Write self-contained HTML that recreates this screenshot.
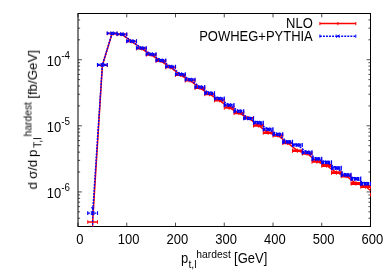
<!DOCTYPE html><html><head><meta charset="utf-8"><style>html,body{margin:0;padding:0;background:#fff}svg{display:block}text{will-change:opacity;opacity:0.99}text{font-family:"Liberation Sans",sans-serif;fill:#000}</style></head><body>
<svg width="390" height="273" viewBox="0 0 390 273">
<rect width="390" height="273" fill="#fff"/>
<path d="M78.00 226.5v-3.9M78.00 13.5v3.9M126.75 226.5v-3.9M126.75 13.5v3.9M175.50 226.5v-3.9M175.50 13.5v3.9M224.25 226.5v-3.9M224.25 13.5v3.9M273.00 226.5v-3.9M273.00 13.5v3.9M321.75 226.5v-3.9M321.75 13.5v3.9M370.50 226.5v-3.9M370.50 13.5v3.9M78.0 226.50h2.1M370.5 226.50h-2.1M78.0 218.24h2.1M370.5 218.24h-2.1M78.0 211.83h2.1M370.5 211.83h-2.1M78.0 206.60h2.1M370.5 206.60h-2.1M78.0 202.17h2.1M370.5 202.17h-2.1M78.0 198.34h2.1M370.5 198.34h-2.1M78.0 194.96h2.1M370.5 194.96h-2.1M78.0 191.93h3.9M370.5 191.93h-3.9M78.0 172.03h2.1M370.5 172.03h-2.1M78.0 160.39h2.1M370.5 160.39h-2.1M78.0 152.13h2.1M370.5 152.13h-2.1M78.0 145.72h2.1M370.5 145.72h-2.1M78.0 140.49h2.1M370.5 140.49h-2.1M78.0 136.06h2.1M370.5 136.06h-2.1M78.0 132.23h2.1M370.5 132.23h-2.1M78.0 128.85h2.1M370.5 128.85h-2.1M78.0 125.82h3.9M370.5 125.82h-3.9M78.0 105.92h2.1M370.5 105.92h-2.1M78.0 94.28h2.1M370.5 94.28h-2.1M78.0 86.02h2.1M370.5 86.02h-2.1M78.0 79.61h2.1M370.5 79.61h-2.1M78.0 74.38h2.1M370.5 74.38h-2.1M78.0 69.95h2.1M370.5 69.95h-2.1M78.0 66.12h2.1M370.5 66.12h-2.1M78.0 62.73h2.1M370.5 62.73h-2.1M78.0 59.71h3.9M370.5 59.71h-3.9M78.0 39.81h2.1M370.5 39.81h-2.1M78.0 28.17h2.1M370.5 28.17h-2.1M78.0 19.91h2.1M370.5 19.91h-2.1M78.0 13.50h2.1M370.5 13.50h-2.1" stroke="#000" stroke-width="0.7" fill="none"/>
<rect x="78.0" y="13.5" width="292.5" height="213.0" fill="none" stroke="#000" stroke-width="1"/>
<clipPath id="c"><rect x="77.5" y="13.5" width="293.65" height="213.0"/></clipPath>
<g clip-path="url(#c)">
<path d="M92.62 222.00 L102.38 65.20 L112.12 33.50 L121.88 34.40 L131.62 41.50 L141.38 48.50 L151.12 54.80 L160.88 61.00 L170.62 67.40 L180.38 75.00 L190.12 80.60 L199.88 88.00 L209.62 94.20 L219.38 100.30 L229.12 107.70 L238.88 113.10 L248.62 118.10 L258.38 125.50 L268.12 132.70 L277.88 135.50 L287.62 143.00 L297.38 150.70 L307.12 153.50 L316.88 161.50 L326.62 165.50 L336.38 172.60 L346.12 176.00 L355.88 183.40 L365.62 186.50 L370.5 190.5" stroke="#ff0000" stroke-width="1.5" fill="none" stroke-linejoin="round" /><path d="M87.75 222.00h9.75" stroke="#ff0000" stroke-width="1.40" fill="none" /><path d="M97.50 65.20h9.75" stroke="#ff0000" stroke-width="1.60" fill="none" /><path d="M107.25 33.50h9.75" stroke="#ff0000" stroke-width="1.60" fill="none" /><path d="M117.00 34.40h9.75" stroke="#ff0000" stroke-width="1.65" fill="none" /><path d="M126.75 41.50h9.75" stroke="#ff0000" stroke-width="1.71" fill="none" /><path d="M136.50 48.50h9.75" stroke="#ff0000" stroke-width="1.76" fill="none" /><path d="M146.25 54.80h9.75" stroke="#ff0000" stroke-width="1.82" fill="none" /><path d="M156.00 61.00h9.75" stroke="#ff0000" stroke-width="1.87" fill="none" /><path d="M165.75 67.40h9.75" stroke="#ff0000" stroke-width="1.92" fill="none" /><path d="M175.50 75.00h9.75" stroke="#ff0000" stroke-width="1.98" fill="none" /><path d="M185.25 80.60h9.75" stroke="#ff0000" stroke-width="2.03" fill="none" /><path d="M195.00 88.00h9.75" stroke="#ff0000" stroke-width="2.08" fill="none" /><path d="M204.75 94.20h9.75" stroke="#ff0000" stroke-width="2.14" fill="none" /><path d="M214.50 100.30h9.75" stroke="#ff0000" stroke-width="2.19" fill="none" /><path d="M224.25 107.70h9.75" stroke="#ff0000" stroke-width="2.25" fill="none" /><path d="M234.00 113.10h9.75" stroke="#ff0000" stroke-width="2.30" fill="none" /><path d="M243.75 118.10h9.75" stroke="#ff0000" stroke-width="2.35" fill="none" /><path d="M253.50 125.50h9.75" stroke="#ff0000" stroke-width="2.41" fill="none" /><path d="M263.25 132.70h9.75" stroke="#ff0000" stroke-width="2.46" fill="none" /><path d="M273.00 135.50h9.75" stroke="#ff0000" stroke-width="2.52" fill="none" /><path d="M282.75 143.00h9.75" stroke="#ff0000" stroke-width="2.57" fill="none" /><path d="M292.50 150.70h9.75" stroke="#ff0000" stroke-width="2.62" fill="none" /><path d="M302.25 153.50h9.75" stroke="#ff0000" stroke-width="2.68" fill="none" /><path d="M312.00 161.50h9.75" stroke="#ff0000" stroke-width="2.73" fill="none" /><path d="M321.75 165.50h9.75" stroke="#ff0000" stroke-width="2.78" fill="none" /><path d="M331.50 172.60h9.75" stroke="#ff0000" stroke-width="2.84" fill="none" /><path d="M341.25 176.00h9.75" stroke="#ff0000" stroke-width="2.89" fill="none" /><path d="M351.00 183.40h9.75" stroke="#ff0000" stroke-width="2.95" fill="none" /><path d="M360.75 186.50h9.75" stroke="#ff0000" stroke-width="3.00" fill="none" /><path d="M87.75 220.20v3.60M97.50 220.20v3.60M92.62 220.20v3.60M97.50 63.40v3.60M107.25 63.40v3.60M102.38 63.40v3.60M107.25 31.70v3.60M117.00 31.70v3.60M112.12 31.70v3.60M117.00 32.58v3.63M126.75 32.58v3.63M121.88 32.58v3.63M126.75 39.67v3.66M136.50 39.67v3.66M131.62 39.67v3.66M136.50 46.65v3.69M146.25 46.65v3.69M141.38 46.65v3.69M146.25 52.94v3.72M156.00 52.94v3.72M151.12 52.94v3.72M156.00 59.12v3.75M165.75 59.12v3.75M160.88 59.12v3.75M165.75 65.51v3.78M175.50 65.51v3.78M170.62 65.51v3.78M175.50 73.09v3.82M185.25 73.09v3.82M180.38 73.09v3.82M185.25 78.68v3.85M195.00 78.68v3.85M190.12 78.68v3.85M195.00 86.06v3.88M204.75 86.06v3.88M199.88 86.06v3.88M204.75 92.25v3.91M214.50 92.25v3.91M209.62 92.25v3.91M214.50 98.33v3.94M224.25 98.33v3.94M219.38 98.33v3.94M224.25 105.72v3.97M234.00 105.72v3.97M229.12 105.72v3.97M234.00 111.10v4.00M243.75 111.10v4.00M238.88 111.10v4.00M243.75 116.08v4.03M253.50 116.08v4.03M248.62 116.08v4.03M253.50 123.47v4.06M263.25 123.47v4.06M258.38 123.47v4.06M263.25 130.65v4.09M273.00 130.65v4.09M268.12 130.65v4.09M273.00 133.44v4.12M282.75 133.44v4.12M277.88 133.44v4.12M282.75 140.92v4.15M292.50 140.92v4.15M287.62 140.92v4.15M292.50 148.61v4.18M302.25 148.61v4.18M297.38 148.61v4.18M302.25 151.39v4.22M312.00 151.39v4.22M307.12 151.39v4.22M312.00 159.38v4.25M321.75 159.38v4.25M316.88 159.38v4.25M321.75 163.36v4.28M331.50 163.36v4.28M326.62 163.36v4.28M331.50 170.45v4.31M341.25 170.45v4.31M336.38 170.45v4.31M341.25 173.83v4.34M351.00 173.83v4.34M346.12 173.83v4.34M351.00 181.22v4.37M360.75 181.22v4.37M355.88 181.22v4.37M360.75 184.30v4.40M370.50 184.30v4.40M365.62 184.30v4.40" stroke="#ff0000" stroke-width="1.0" fill="none"/>
<path d="M92.62 219.5V227" stroke="#ff0000" stroke-width="1.3" fill="none"/>
<path d="M370.5 192.7V196.3" stroke="#ff0000" stroke-width="1.0" fill="none"/>
<path d="M92.62 213.10 L102.38 64.90 L112.12 33.30 L121.88 34.20 L131.62 41.10 L141.38 48.00 L151.12 54.20 L160.88 60.30 L170.62 66.60 L180.38 74.20 L190.12 79.60 L199.88 87.00 L209.62 93.10 L219.38 98.50 L229.12 105.10 L238.88 111.20 L248.62 118.30 L258.38 122.70 L268.12 129.30 L277.88 134.30 L287.62 141.90 L297.38 145.00 L307.12 152.40 L316.88 158.80 L326.62 162.30 L336.38 168.00 L346.12 174.90 L355.88 178.80 L365.62 183.70" stroke="#0000ff" stroke-width="1.5" fill="none" stroke-linejoin="round" stroke-dasharray="1.9 1.15"/><path d="M87.75 213.10h9.75" stroke="#0000ff" stroke-width="1.40" fill="none" stroke-dasharray="2.3 0.75"/><path d="M97.50 64.90h9.75" stroke="#0000ff" stroke-width="2.10" fill="none" stroke-dasharray="2.3 0.75"/><path d="M107.25 33.30h9.75" stroke="#0000ff" stroke-width="2.10" fill="none" stroke-dasharray="2.3 0.75"/><path d="M117.00 34.20h9.75" stroke="#0000ff" stroke-width="2.15" fill="none" stroke-dasharray="2.3 0.75"/><path d="M126.75 41.10h9.75" stroke="#0000ff" stroke-width="2.21" fill="none" stroke-dasharray="2.3 0.75"/><path d="M136.50 48.00h9.75" stroke="#0000ff" stroke-width="2.26" fill="none" stroke-dasharray="2.3 0.75"/><path d="M146.25 54.20h9.75" stroke="#0000ff" stroke-width="2.32" fill="none" stroke-dasharray="2.3 0.75"/><path d="M156.00 60.30h9.75" stroke="#0000ff" stroke-width="2.37" fill="none" stroke-dasharray="2.3 0.75"/><path d="M165.75 66.60h9.75" stroke="#0000ff" stroke-width="2.42" fill="none" stroke-dasharray="2.3 0.75"/><path d="M175.50 74.20h9.75" stroke="#0000ff" stroke-width="2.48" fill="none" stroke-dasharray="2.3 0.75"/><path d="M185.25 79.60h9.75" stroke="#0000ff" stroke-width="2.53" fill="none" stroke-dasharray="2.3 0.75"/><path d="M195.00 87.00h9.75" stroke="#0000ff" stroke-width="2.58" fill="none" stroke-dasharray="2.3 0.75"/><path d="M204.75 93.10h9.75" stroke="#0000ff" stroke-width="2.64" fill="none" stroke-dasharray="2.3 0.75"/><path d="M214.50 98.50h9.75" stroke="#0000ff" stroke-width="2.69" fill="none" stroke-dasharray="2.3 0.75"/><path d="M224.25 105.10h9.75" stroke="#0000ff" stroke-width="2.75" fill="none" stroke-dasharray="2.3 0.75"/><path d="M234.00 111.20h9.75" stroke="#0000ff" stroke-width="2.80" fill="none" stroke-dasharray="2.3 0.75"/><path d="M243.75 118.30h9.75" stroke="#0000ff" stroke-width="2.85" fill="none" stroke-dasharray="2.3 0.75"/><path d="M253.50 122.70h9.75" stroke="#0000ff" stroke-width="2.91" fill="none" stroke-dasharray="2.3 0.75"/><path d="M263.25 129.30h9.75" stroke="#0000ff" stroke-width="2.96" fill="none" stroke-dasharray="2.3 0.75"/><path d="M273.00 134.30h9.75" stroke="#0000ff" stroke-width="3.02" fill="none" stroke-dasharray="2.3 0.75"/><path d="M282.75 141.90h9.75" stroke="#0000ff" stroke-width="3.07" fill="none" stroke-dasharray="2.3 0.75"/><path d="M292.50 145.00h9.75" stroke="#0000ff" stroke-width="3.12" fill="none" stroke-dasharray="2.3 0.75"/><path d="M302.25 152.40h9.75" stroke="#0000ff" stroke-width="3.18" fill="none" stroke-dasharray="2.3 0.75"/><path d="M312.00 158.80h9.75" stroke="#0000ff" stroke-width="3.23" fill="none" stroke-dasharray="2.3 0.75"/><path d="M321.75 162.30h9.75" stroke="#0000ff" stroke-width="3.28" fill="none" stroke-dasharray="2.3 0.75"/><path d="M331.50 168.00h9.75" stroke="#0000ff" stroke-width="3.34" fill="none" stroke-dasharray="2.3 0.75"/><path d="M341.25 174.90h9.75" stroke="#0000ff" stroke-width="3.39" fill="none" stroke-dasharray="2.3 0.75"/><path d="M351.00 178.80h9.75" stroke="#0000ff" stroke-width="3.45" fill="none" stroke-dasharray="2.3 0.75"/><path d="M360.75 183.70h9.75" stroke="#0000ff" stroke-width="3.50" fill="none" stroke-dasharray="2.3 0.75"/><path d="M87.75 211.30v3.60M97.50 211.30v3.60M90.92 211.40l3.4 3.4M90.92 214.80l3.4 -3.4M97.50 63.10v3.60M107.25 63.10v3.60M100.67 63.20l3.4 3.4M100.67 66.60l3.4 -3.4M107.25 31.50v3.60M117.00 31.50v3.60M110.42 31.60l3.4 3.4M110.42 35.00l3.4 -3.4M117.00 32.38v3.63M126.75 32.38v3.63M120.17 32.50l3.4 3.4M120.17 35.90l3.4 -3.4M126.75 39.27v3.66M136.50 39.27v3.66M129.93 39.40l3.4 3.4M129.93 42.80l3.4 -3.4M136.50 46.15v3.69M146.25 46.15v3.69M139.68 46.30l3.4 3.4M139.68 49.70l3.4 -3.4M146.25 52.34v3.72M156.00 52.34v3.72M149.43 52.50l3.4 3.4M149.43 55.90l3.4 -3.4M156.00 58.42v3.75M165.75 58.42v3.75M159.18 58.60l3.4 3.4M159.18 62.00l3.4 -3.4M165.75 64.71v3.78M175.50 64.71v3.78M168.93 64.90l3.4 3.4M168.93 68.30l3.4 -3.4M175.50 72.29v3.82M185.25 72.29v3.82M178.68 72.50l3.4 3.4M178.68 75.90l3.4 -3.4M185.25 77.68v3.85M195.00 77.68v3.85M188.43 77.90l3.4 3.4M188.43 81.30l3.4 -3.4M195.00 85.06v3.88M204.75 85.06v3.88M198.18 85.30l3.4 3.4M198.18 88.70l3.4 -3.4M204.75 91.15v3.91M214.50 91.15v3.91M207.93 91.40l3.4 3.4M207.93 94.80l3.4 -3.4M214.50 96.53v3.94M224.25 96.53v3.94M217.68 96.80l3.4 3.4M217.68 100.20l3.4 -3.4M224.25 103.12v3.97M234.00 103.12v3.97M227.43 103.40l3.4 3.4M227.43 106.80l3.4 -3.4M234.00 109.20v4.00M243.75 109.20v4.00M237.18 109.50l3.4 3.4M237.18 112.90l3.4 -3.4M243.75 116.28v4.03M253.50 116.28v4.03M246.93 116.60l3.4 3.4M246.93 120.00l3.4 -3.4M253.50 120.67v4.06M263.25 120.67v4.06M256.68 121.00l3.4 3.4M256.68 124.40l3.4 -3.4M263.25 127.25v4.09M273.00 127.25v4.09M266.43 127.60l3.4 3.4M266.43 131.00l3.4 -3.4M273.00 132.24v4.12M282.75 132.24v4.12M276.18 132.60l3.4 3.4M276.18 136.00l3.4 -3.4M282.75 139.82v4.15M292.50 139.82v4.15M285.93 140.20l3.4 3.4M285.93 143.60l3.4 -3.4M292.50 142.91v4.18M302.25 142.91v4.18M295.68 143.30l3.4 3.4M295.68 146.70l3.4 -3.4M302.25 150.29v4.22M312.00 150.29v4.22M305.43 150.70l3.4 3.4M305.43 154.10l3.4 -3.4M312.00 156.68v4.25M321.75 156.68v4.25M315.18 157.10l3.4 3.4M315.18 160.50l3.4 -3.4M321.75 160.16v4.28M331.50 160.16v4.28M324.93 160.60l3.4 3.4M324.93 164.00l3.4 -3.4M331.50 165.85v4.31M341.25 165.85v4.31M334.68 166.30l3.4 3.4M334.68 169.70l3.4 -3.4M341.25 172.73v4.34M351.00 172.73v4.34M344.43 173.20l3.4 3.4M344.43 176.60l3.4 -3.4M351.00 176.62v4.37M360.75 176.62v4.37M354.18 177.10l3.4 3.4M354.18 180.50l3.4 -3.4M360.75 181.50v4.40M370.50 181.50v4.40M363.93 182.00l3.4 3.4M363.93 185.40l3.4 -3.4" stroke="#0000ff" stroke-width="1.2" fill="none"/>
<path d="M92.62 207.5V227" stroke="#0000ff" stroke-width="1.3" fill="none" stroke-dasharray="1.8 1.3"/>
<path d="M91.03 207.8h3.2" stroke="#0000ff" stroke-width="1" fill="none"/>
</g>
<text transform="translate(312.80 27.60) scale(1 1.08)" font-size="13" text-anchor="end">NLO</text>
<text transform="translate(312.80 40.50) scale(1 1.08)" font-size="13" text-anchor="end">POWHEG+PYTHIA</text>
<path d="M319.9 23.6H355.8" stroke="#ff0000" stroke-width="1.5" fill="none"/>
<path d="M319.9 22v3.2M355.8 22v3.2M337.85 22v3.2" stroke="#ff0000" stroke-width="1.0" fill="none"/>
<path d="M319.9 36.2H355.8" stroke="#0000ff" stroke-width="1.5" fill="none" stroke-dasharray="1.9 1.15"/>
<path d="M319.9 34.6v3.2M355.8 34.6v3.2M336.25 34.6l3.2 3.2M336.25 37.8l3.2 -3.2" stroke="#0000ff" stroke-width="1.0" fill="none"/>
<text transform="translate(79.90 244.50) scale(1 1.08)" font-size="13" text-anchor="middle">0</text>
<text transform="translate(128.65 244.50) scale(1 1.08)" font-size="13" text-anchor="middle">100</text>
<text transform="translate(177.40 244.50) scale(1 1.08)" font-size="13" text-anchor="middle">200</text>
<text transform="translate(226.15 244.50) scale(1 1.08)" font-size="13" text-anchor="middle">300</text>
<text transform="translate(274.90 244.50) scale(1 1.08)" font-size="13" text-anchor="middle">400</text>
<text transform="translate(323.65 244.50) scale(1 1.08)" font-size="13" text-anchor="middle">500</text>
<text transform="translate(372.40 244.50) scale(1 1.08)" font-size="13" text-anchor="middle">600</text>
<text transform="translate(46.80 65.91) scale(1 1.08)" font-size="13" text-anchor="start">10</text>
<text transform="translate(61.36 58.91) scale(1 1.1)" font-size="9.8" text-anchor="start">-4</text>
<text transform="translate(46.80 132.02) scale(1 1.08)" font-size="13" text-anchor="start">10</text>
<text transform="translate(61.36 125.02) scale(1 1.1)" font-size="9.8" text-anchor="start">-5</text>
<text transform="translate(46.80 198.13) scale(1 1.08)" font-size="13" text-anchor="start">10</text>
<text transform="translate(61.36 191.13) scale(1 1.1)" font-size="9.8" text-anchor="start">-6</text>
<text transform="translate(181.10 263.30) scale(1 1.08)" font-size="13" text-anchor="start">p</text>
<text transform="translate(188.40 267.70) scale(1 1)" font-size="10.4" text-anchor="start">t,l</text>
<text transform="translate(196.30 257.55) scale(1 1)" font-size="10.34" text-anchor="start">hardest</text>
<text transform="translate(234.10 263.30) scale(1 1.08)" font-size="13" text-anchor="start">[GeV]</text>
<text transform="translate(36.90 189.40) rotate(-90) scale(1.017 1)" font-size="13">d</text>
<text transform="translate(36.90 178.90) rotate(-90) scale(1.017 1)" font-size="13">σ/d</text>
<text transform="translate(36.90 157.00) rotate(-90) scale(1.017 1)" font-size="13">p</text>
<text transform="translate(41.30 148.00) rotate(-90) scale(1.017 1)" font-size="10.4">T,l</text>
<text transform="translate(31.50 136.50) rotate(-90) scale(1.0 1)" font-size="10.34">hardest</text>
<text transform="translate(36.90 98.70) rotate(-90) scale(1.022 1)" font-size="13">[fb/GeV]</text>
</svg></body></html>
